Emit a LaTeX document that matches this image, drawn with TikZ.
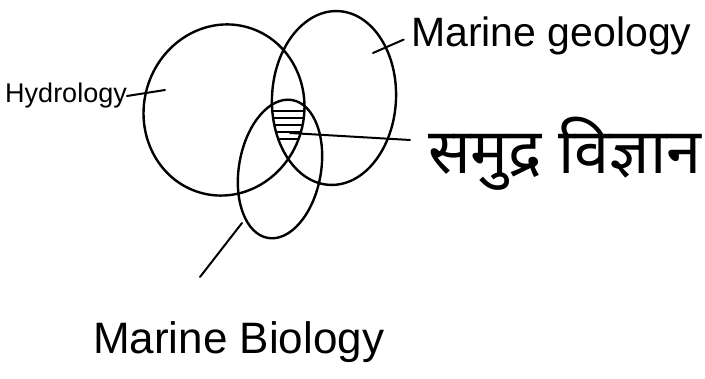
\documentclass[tikz,border=0pt]{standalone}
\usepackage{fontspec}
\setmainfont{Liberation Sans}
\newfontfamily\devfont[Script=Devanagari]{Noto Sans}

\begin{document}
\begin{tikzpicture}[x=1pt,y=1pt,line cap=round,line join=round,every node/.style={inner sep=0pt}]
  \useasboundingbox (0,0) rectangle (705,379);
  \draw[line width=2.4pt,rotate around={-16:(224,269)}] (224,269) ellipse [x radius=80,y radius=86];
  \draw[line width=2.4pt,rotate around={-3:(334,281)}] (334,281) ellipse [x radius=62,y radius=87];
  \draw[line width=2.4pt,rotate around={-10:(280,210)}] (280,210) ellipse [x radius=41,y radius=70];
  \begin{scope}
    \clip[rotate around={-16:(224,269)}] (224,269) ellipse [x radius=80,y radius=86];
    \clip[rotate around={-3:(334,281)}] (334,281) ellipse [x radius=62,y radius=87];
    \clip[rotate around={-10:(280,210)}] (280,210) ellipse [x radius=41,y radius=70];
    \foreach \y in {268,261,...,240} {
      \draw[line width=1.6pt] (250,\y) -- (320,\y);
    }
  \end{scope}
  \node[anchor=base east,font=\fontsize{27}{32}\selectfont] (hydro) at (127,276) {Hydrology};
  \coordinate (hydroTip) at (165,289);
  \draw[line width=2pt] (hydro.east) -- (hydroTip);
  \node[anchor=base west,font=\fontsize{41}{48}\selectfont] (geo) at (411,332) {Marine geology};
  \coordinate (geoTip) at (373,326);
  \draw[line width=2pt,shorten >=8pt] (geoTip) -- (geo.west);
  \node[anchor=base west,font=\devfont\fontsize{63}{72}\selectfont] (samudra) at (428,205) {समुद्र विज्ञान};
  \coordinate (samTip) at (290,246);
  \coordinate (samEnd) at (410,239);
  \draw[line width=2pt] (samTip) -- (samEnd);
  \node[anchor=base west,font=\fontsize{44}{52}\selectfont] (bio) at (93,25) {Marine Biology};
  \coordinate (bioTip) at (242,156);
  \coordinate (bioEnd) at (200,102);
  \draw[line width=2pt] (bioTip) -- (bioEnd);
\end{tikzpicture}
\end{document}
